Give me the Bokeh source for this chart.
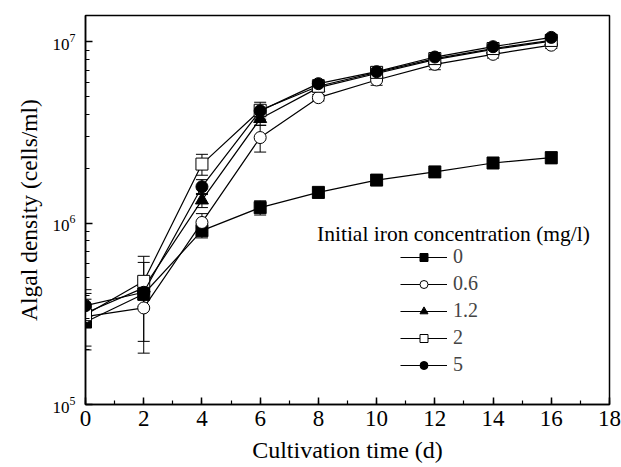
from bokeh.plotting import figure
from bokeh.models import (ColumnDataSource, Range1d, SingleIntervalTicker, LogTicker,
                          Whisker, TeeHead, Legend, LegendItem, Label)
from bokeh.embed import file_html
from bokeh.resources import INLINE

# Cultivation time (days)
time_d = [0, 2, 4, 6, 8, 10, 12, 14, 16]

# Initial iron concentrations (mg/l)
iron_levels = ["0", "0.6", "1.2", "2", "5"]

# Algal density (cells/ml), mean values per iron level
dens_0 = [2.85e5, 4.07e5, 9.1e5, 1.22e6, 1.48e6, 1.73e6, 1.92e6, 2.15e6, 2.30e6]
dens_06 = [3.05e5, 3.41e5, 1.01e6, 2.97e6, 4.93e6, 6.17e6, 7.53e6, 8.55e6, 9.60e6]
dens_12 = [3.20e5, 4.40e5, 1.34e6, 3.77e6, 5.60e6, 6.70e6, 8.00e6, 9.10e6, 1.01e7]
dens_2 = [3.13e5, 4.78e5, 2.12e6, 4.20e6, 5.70e6, 6.80e6, 8.10e6, 9.20e6, 1.02e7]
dens_5 = [3.51e5, 4.16e5, 1.59e6, 4.17e6, 5.89e6, 6.86e6, 8.26e6, 9.42e6, 1.06e7]

# Standard deviations (cells/ml)
sd_0 = [0.10e5, 0.30e5, 0.8e5, 1.1e5, 1.0e5, 1.0e5, 0.8e5, 0.7e5, 1.7e5]
sd_06 = [1.05e5, 1.49e5, 1.2e5, 5.0e5, 2.0e5, 4.0e5, 5.0e5, 4.0e5, 4.0e5]
sd_12 = [1.10e5, 2.17e5, 1.2e5, 3.0e5, 3.0e5, 4.0e5, 4.0e5, 4.0e5, 5.0e5]
sd_2 = [0.30e5, 1.30e5, 2.8e5, 4.5e5, 3.0e5, 4.0e5, 4.0e5, 4.0e5, 4.0e5]
sd_5 = [0.30e5, 0.40e5, 1.5e5, 3.0e5, 3.0e5, 4.0e5, 4.0e5, 4.0e5, 4.0e5]

series_means = [dens_0, dens_06, dens_12, dens_2, dens_5]
series_sds = [sd_0, sd_06, sd_12, sd_2, sd_5]

# marker style per series: (marker, fill colour)
styles = [("square", "black"), ("circle", "white"), ("triangle", "black"),
          ("square", "white"), ("circle", "black")]

FONT = "Liberation Serif"

p = figure(width=621, height=467, y_axis_type="log",
           x_range=Range1d(0, 18), y_range=Range1d(1e5, 1.4e7),
           output_backend="svg", toolbar_location=None,
           min_border_left=85, min_border_right=12,
           min_border_top=15, min_border_bottom=63)

p.xgrid.visible = False
p.ygrid.visible = False
p.outline_line_color = "black"
p.outline_line_width = 1.5
p.background_fill_color = "white"
p.border_fill_color = "white"

legend_items = []
for name, means, sds, (marker, fill) in zip(iron_levels, series_means, series_sds, styles):
    lower = [m - s for m, s in zip(means, sds)]
    upper = [m + s for m, s in zip(means, sds)]
    src = ColumnDataSource(dict(x=time_d, y=means, lower=lower, upper=upper))
    p.add_layout(Whisker(source=src, base="x", lower="lower", upper="upper",
                         dimension="height", line_color="black", line_width=1,
                         upper_head=TeeHead(size=12, line_color="black", line_width=1),
                         lower_head=TeeHead(size=12, line_color="black", line_width=1)))
    lr = p.line("x", "y", source=src, line_color="black", line_width=1.2)
    msize = 12 if marker != "triangle" else 13
    sr = p.scatter("x", "y", source=src, marker=marker, size=msize,
                   fill_color=fill, line_color="black", line_width=1)
    legend_items.append(LegendItem(label=name, renderers=[lr, sr]))

legend = Legend(items=legend_items, location=(315, 28),
                label_text_font=FONT, label_text_font_size="20px",
                glyph_width=47, glyph_height=20, label_height=20,
                spacing=4, padding=0, margin=0, label_standoff=6,
                border_line_alpha=0, background_fill_alpha=0)
p.add_layout(legend, "center")

p.add_layout(Label(x=12.64, y=8.75e5, text="Initial iron concentration (mg/l)",
                   text_align="center", text_baseline="middle",
                   text_font=FONT, text_font_size="21.5px", text_color="black"))

# axes
p.xaxis.ticker = SingleIntervalTicker(interval=2, num_minor_ticks=2)
p.yaxis.ticker = LogTicker(num_minor_ticks=10)
for ax in (p.xaxis, p.yaxis):
    ax.axis_line_color = "black"
    ax.axis_line_width = 1.5
    ax.major_tick_line_color = "black"
    ax.minor_tick_line_color = "black"
    ax.major_tick_line_width = 1.5
    ax.minor_tick_line_width = 1.2
    ax.major_tick_in = 7
    ax.major_tick_out = 0
    ax.minor_tick_in = 4
    ax.minor_tick_out = 0
    ax.major_label_text_font = FONT
    ax.major_label_text_color = "black"
    ax.axis_label_text_font = FONT
    ax.axis_label_text_font_style = "normal"
    ax.axis_label_text_color = "black"

p.xaxis.axis_label = "Cultivation time (d)"
p.yaxis.axis_label = "Algal density (cells/ml)"
p.xaxis.axis_label_text_font_size = "24px"
p.yaxis.axis_label_text_font_size = "23.5px"
p.xaxis.major_label_text_font_size = "23px"
p.yaxis.major_label_text_font_size = "17px"
p.xaxis.major_label_standoff = 6
p.yaxis.major_label_standoff = 10
p.xaxis.axis_label_standoff = 8
p.yaxis.axis_label_standoff = 8

open("out.html", "w").write(file_html(p, INLINE))
